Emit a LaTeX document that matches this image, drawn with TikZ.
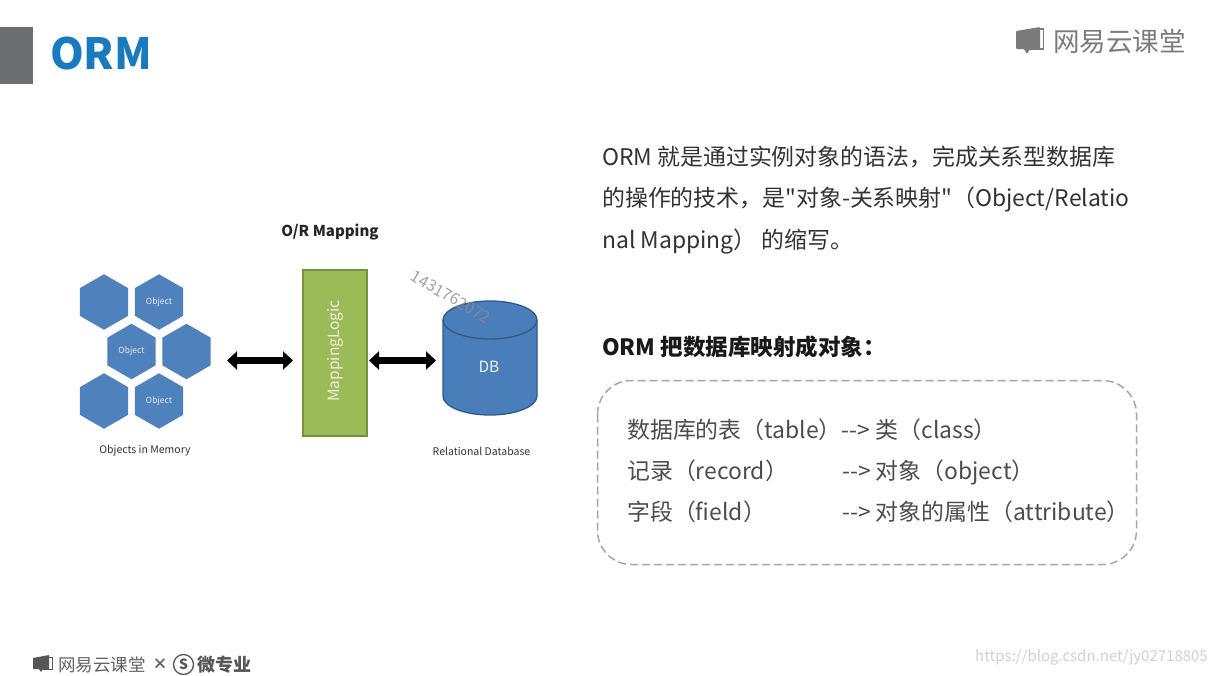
\documentclass[tikz,border=0pt]{standalone}
\usepackage{fontspec}
\setmainfont{Noto Sans CJK SC}
\newfontfamily\plainfont{Noto Sans CJK SC}
\usetikzlibrary{shapes.geometric,arrows.meta}
\definecolor{hexblue}{HTML}{4F81BD}
\definecolor{dbblue}{HTML}{4A7EBB}
\definecolor{dbline}{HTML}{2C5A8C}
\definecolor{greenbox}{HTML}{9BBB59}
\definecolor{greenline}{HTML}{76923C}
\definecolor{titleblue}{HTML}{1A7ABF}
\definecolor{graybar}{HTML}{6D6E71}
\definecolor{logogray}{HTML}{7B7B7B}
\definecolor{bodytext}{HTML}{333333}
\definecolor{dashgray}{HTML}{A6A6A6}
\tikzset{
  x=1pt,y=-1pt,
  hexa/.style={regular polygon,regular polygon sides=6,shape border rotate=30,fill=hexblue,minimum size=55.5pt,inner sep=0pt,text=white!85!hexblue,font=\fontsize{8.5}{10}\selectfont},
  dblarrow/.style={line width=7pt,{Triangle[width=18pt,length=10pt]}-{Triangle[width=18pt,length=10pt]}},
  body/.style={anchor=base west,inner sep=0pt,text=bodytext,font=\plainfont\fontsize{22.9}{27}\selectfont},
  rowtext/.style={body,text=black!70},
  smalllabel/.style={text=black!80,inner sep=0pt,font=\fontsize{10.5}{12}\selectfont},
}
\begin{document}
\begin{tikzpicture}
\useasboundingbox (0,0) rectangle (1216,675);
\fill[white] (0,0) rectangle (1216,675);
\node[fill=graybar,minimum width=33pt,minimum height=57pt,inner sep=0pt,anchor=north west] (bar) at (0,27) {};
\node[anchor=west,inner sep=0pt,text=titleblue,font=\fontsize{43}{46}\bfseries\selectfont] (title) at (50,54) {ORM};
% logo top right
\fill[logogray,rounded corners=1pt] (1016,31) -- (1040,27) -- (1040,49) -- (1030,49) -- (1027,54) -- (1024,49) -- (1016,49) -- cycle;
\draw[logogray,line width=1.2pt] (1040,29) -- (1043.5,29) -- (1043.5,49) -- (1030,49);
\node[anchor=west,inner sep=0pt,text=logogray,font=\fontsize{26.5}{28}\selectfont] (logo) at (1053,41) {网易云课堂};
% diagram
\node[inner sep=0pt,text=black!85,font=\fontsize{15}{18}\bfseries\selectfont] (ortitle) at (330,232) {O/R Mapping};
\node[hexa] (h1) at (104,302) {};
\node[hexa] (h2) at (159,302) {Object};
\node[hexa] (h3) at (131.5,351.5) {Object};
\node[hexa] (h4) at (186.5,351.5) {};
\node[hexa] (h5) at (104,401) {};
\node[hexa] (h6) at (159,401) {Object};
\node[smalllabel] (memlabel) at (145,451) {Objects in Memory};
\coordinate (a1l) at (227,360.5);
\coordinate (a1r) at (293,360.5);
\draw[dblarrow] (a1l) -- (a1r);
\node[draw=greenline,line width=1.3pt,fill=greenbox,minimum width=64pt,minimum height=166pt,inner sep=0pt] (ml) at (335,353) {};
\node[rotate=90,inner sep=0pt,text=white!80!greenbox,font=\fontsize{15.5}{18}\selectfont] (mltext) at (335.5,351) {MappingLogic};
\coordinate (a2l) at (369,360.5);
\coordinate (a2r) at (436,360.5);
\draw[dblarrow] (a2l) -- (a2r);
\draw[draw=dbline,line width=1.3pt,fill=dbblue] (443,320) -- (443,396) .. controls (443,406.5) and (464,415) .. (490,415) .. controls (516,415) and (537,406.5) .. (537,396) -- (537,320) .. controls (537,309.5) and (516,301) .. (490,301) .. controls (464,301) and (443,309.5) .. (443,320) -- cycle;
\draw[draw=dbline,line width=1.3pt] (443,320) .. controls (443,330.5) and (464,339) .. (490,339) .. controls (516,339) and (537,330.5) .. (537,320);
\node[inner sep=0pt,text=white!90!dbblue,font=\fontsize{15.5}{18}\selectfont] (db) at (489,367) {DB};
\node[smalllabel] (rellabel) at (481.5,451) {Relational Database};
\node[rotate=-30,inner sep=0pt,text=black!45,opacity=.8,font=\fontsize{16}{18}\selectfont] (wm) at (451,297) {1431762072};
% right text
\node[body] (p1) at (602,165) {ORM 就是通过实例对象的语法，完成关系型数据库};
\node[body] (p2) at (602,206) {的操作的技术，是"对象-关系映射"（Object/Relatio};
\node[body] (p3) at (602,248) {nal Mapping） 的缩写。};
\node[body,text=black!90,font=\plainfont\fontsize{22.5}{27}\bfseries\selectfont] (h) at (602,355) {ORM 把数据库映射成对象：};
\draw[dashgray,line width=1.5pt,dash pattern=on 8pt off 4pt,rounded corners=34pt] (597.5,380.5) rectangle (1136.5,564.5);
\node[rowtext] (r1a) at (627,438) {数据库的表（table）--> 类（class）};
\node[rowtext] (r2a) at (627,479) {记录（record）};
\node[rowtext] (r2b) at (842,479) {--> 对象（object）};
\node[rowtext] (r3a) at (627,520) {字段（field）};
\node[rowtext] (r3b) at (842,520) {--> 对象的属性（attribute）};
% footer
\fill[logogray!70!black,rounded corners=.5pt] (33,658) -- (49,655) -- (49,669) -- (43,669) -- (41,672) -- (39,669) -- (33,669) -- cycle;
\draw[logogray!70!black,line width=1pt] (49,657) -- (52,657) -- (52,669) -- (43,669);
\node[anchor=west,inner sep=0pt,text=logogray!80!black,font=\fontsize{17.5}{20}\selectfont] (f1) at (58,664.5) {网易云课堂};
\node[inner sep=0pt,text=logogray!80!black,font=\fontsize{15}{18}\bfseries\selectfont] (fx) at (160,664.5) {×};
\node[draw=logogray!70!black,circle,line width=1.3pt,inner sep=0pt,minimum size=20pt,text=logogray!70!black,font=\fontsize{14}{14}\bfseries\selectfont] (fs) at (183.5,664.5) {S};
\node[anchor=west,inner sep=0pt,text=logogray!70!black,font=\fontsize{18}{20}\bfseries\selectfont] (f2) at (197,664.5) {微专业};
\node[anchor=east,inner sep=0pt,text=black!18,font=\fontsize{15}{18}\selectfont] (url) at (1208,657) {https://blog.csdn.net/jy02718805};
\end{tikzpicture}
\end{document}
